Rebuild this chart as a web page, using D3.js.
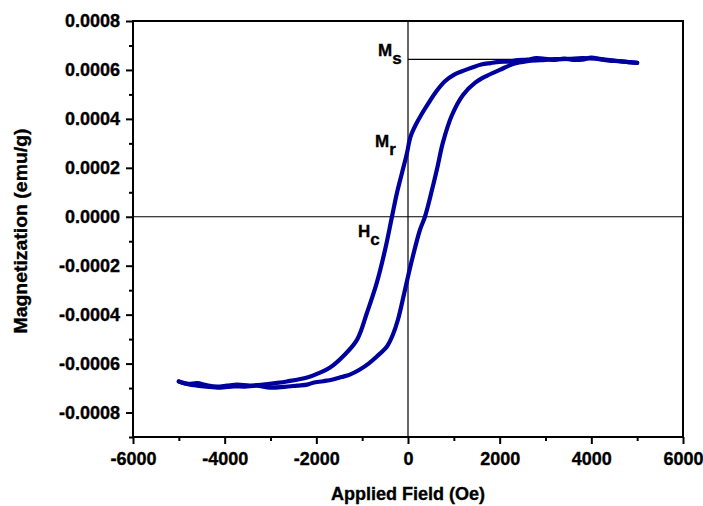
<!DOCTYPE html>
<html>
<head>
<meta charset="utf-8">
<script src="https://cdn.jsdelivr.net/npm/d3@7"></script>
<style>
  body { margin: 0; background: #fff; }
  svg text { font-family: "Liberation Sans", Arial, sans-serif; font-weight: bold; stroke: #000; stroke-width: 0.35px; }
</style>
</head>
<body>
<div class="canvas"></div>
<script>
// hysteresis loop
// descending branch (+5000 -> -5000 Oe)
const fieldDown = [5000, 4800, 4600, 4400, 4200, 4000, 3800, 3600, 3400, 3200, 3000, 2800, 2600, 2400, 2200, 2000,
  1800, 1600, 1400, 1200, 1000, 800, 600, 450, 300, 180, 80, 30, -20, -130, -240, -350, -500, -680, -895, -1110,
  -1420, -1700, -1920, -2200, -2640, -2900, -3160, -3450, -3730, -3950, -4170, -4400, -4600, -4800, -5000];
const magDown = [0.000629, 0.000632, 0.000636, 0.000638, 0.000643, 0.000650, 0.000642, 0.000641, 0.000646, 0.000641,
  0.000645, 0.000648, 0.000642, 0.000640, 0.000634, 0.000633, 0.000628, 0.000622, 0.000610, 0.000596, 0.000580,
  0.000553, 0.000508, 0.000465, 0.000420, 0.000380, 0.000340, 0.000310, 0.000262, 0.000180, 0.000098, 0.0,
  -0.000135, -0.000269, -0.000392, -0.000502, -0.000571, -0.000616, -0.000637, -0.000657, -0.000673, -0.000680,
  -0.000686, -0.000690, -0.000686, -0.000690, -0.000694, -0.000688, -0.000680, -0.000683, -0.000673];

// ascending branch (-5000 -> +5000 Oe)
const fieldUp = [-5000, -4800, -4600, -4400, -4100, -3800, -3560, -3300, -3010, -2700, -2420, -2200, -2070, -1850,
  -1640, -1450, -1270, -1050, -860, -680, -460, -330, -218, -65, 87, 262, 370, 524, 633, 764, 960, 1200, 1460,
  1720, 2000, 2290, 2600, 2900, 3200, 3500, 3800, 4100, 4400, 4700, 5000];
const magUp = [-0.000673, -0.000684, -0.000690, -0.000694, -0.000698, -0.000693, -0.000694, -0.000690, -0.000698,
  -0.000695, -0.000690, -0.000686, -0.000678, -0.000672, -0.000665, -0.000655, -0.000645, -0.000624, -0.000600,
  -0.000571, -0.000530, -0.000482, -0.000420, -0.000298, -0.000176, -0.000053, 0.0, 0.000110, 0.000195, 0.000305,
  0.000416, 0.000498, 0.000547, 0.000576, 0.000600, 0.000624, 0.000636, 0.000640, 0.000644, 0.000645, 0.000648,
  0.000646, 0.000640, 0.000634, 0.000629];

const satMag = 0.000643;   // Ms guide line
const satFieldEnd = 4500;

const xTicks = [-6000, -4000, -2000, 0, 2000, 4000, 6000];
const xMinor = [-5000, -3000, -1000, 1000, 3000, 5000];
const yTicks = [-0.0008, -0.0006, -0.0004, -0.0002, 0, 0.0002, 0.0004, 0.0006, 0.0008];
const yMinor = [-0.0009, -0.0007, -0.0005, -0.0003, -0.0001, 0.0001, 0.0003, 0.0005, 0.0007];

const xTitle = 'Applied Field (Oe)';
const yTitle = 'Magnetization (emu/g)';

const W = 703, H = 506;
const margin = { top: 21, right: 20, bottom: 69, left: 133 };
const iw = W - margin.left - margin.right;
const ih = H - margin.top - margin.bottom;

const svg = d3.select('.canvas')
  .append('svg')
  .attr('width', W)
  .attr('height', H);

const graph = svg.append('g')
  .attr('transform', `translate(${margin.left}, ${margin.top})`);

const x = d3.scaleLinear().domain([-6000, 6000]).range([0, iw]);
const y = d3.scaleLinear().domain([-0.0009, 0.0008]).range([ih, 0]);

// zero cross lines
graph.append('line')
  .attr('x1', x(0)).attr('x2', x(0)).attr('y1', 0).attr('y2', ih)
  .attr('stroke', '#000').attr('stroke-width', 1.2);
graph.append('line')
  .attr('x1', 0).attr('x2', iw).attr('y1', y(0)).attr('y2', y(0))
  .attr('stroke', '#000').attr('stroke-width', 1.2);

// Ms guide
graph.append('line')
  .attr('x1', x(0)).attr('x2', x(satFieldEnd)).attr('y1', y(satMag)).attr('y2', y(satMag))
  .attr('stroke', '#000').attr('stroke-width', 1.2);

// loop
const line = d3.line()
  .curve(d3.curveCatmullRom.alpha(0.5))
  .x(d => x(d[0]))
  .y(d => y(d[1]));

const branches = [d3.zip(fieldDown, magDown), d3.zip(fieldUp, magUp)];

graph.selectAll('path.loop')
  .data(branches)
  .enter()
  .append('path')
    .attr('class', 'loop')
    .attr('d', line)
    .attr('fill', 'none')
    .attr('stroke', '#00009e')
    .attr('stroke-width', 4.2)
    .attr('stroke-linejoin', 'round')
    .attr('stroke-linecap', 'round');

// frame
graph.append('rect')
  .attr('width', iw).attr('height', ih)
  .attr('fill', 'none').attr('stroke', '#000').attr('stroke-width', 2);

// axes
const yAxis = d3.axisLeft(y)
  .tickValues(yTicks)
  .tickSize(7)
  .tickPadding(6)
  .tickFormat(d => d.toFixed(4));
const xAxis = d3.axisBottom(x)
  .tickValues(xTicks)
  .tickSize(7)
  .tickPadding(8)
  .tickFormat(d => d);

graph.append('g').call(yAxis);
graph.append('g').attr('transform', `translate(0, ${ih})`).call(xAxis);

graph.append('g').call(d3.axisLeft(y).tickValues(yMinor).tickSize(4).tickFormat(''));
graph.append('g').attr('transform', `translate(0, ${ih})`)
  .call(d3.axisBottom(x).tickValues(xMinor).tickSize(4).tickFormat(''));

graph.selectAll('.domain').remove();
graph.selectAll('.tick line').attr('stroke', '#000').attr('stroke-width', 2);
graph.selectAll('.tick text')
  .attr('fill', '#000')
  .style('font-size', '18px');

// axis titles
svg.append('text')
  .attr('x', margin.left + iw / 2)
  .attr('y', 500)
  .attr('text-anchor', 'middle')
  .style('font-size', '18px')
  .text(xTitle);

svg.append('text')
  .attr('transform', `translate(27, ${margin.top + ih / 2 + 2}) rotate(-90)`)
  .attr('text-anchor', 'middle')
  .attr('textLength', 205)
  .attr('lengthAdjust', 'spacingAndGlyphs')
  .style('font-size', '18px')
  .text(yTitle);

// Ms, Mr, Hc annotations
const annotations = [
  { main: 'M', sub: 's', dx: -30, yv: satMag, dy: -3 },
  { main: 'M', sub: 'r', dx: -33, yv: 0.000262, dy: -6 },
  { main: 'H', sub: 'c', dx: -50, yv: 0, dy: 20 }
];

annotations.forEach(a => {
  const t = graph.append('text')
    .attr('x', x(0) + a.dx)
    .attr('y', y(a.yv) + a.dy)
    .style('font-size', '17px');
  t.append('tspan').text(a.main);
  t.append('tspan').attr('dy', 8).text(a.sub);
});
</script>
</body>
</html>
